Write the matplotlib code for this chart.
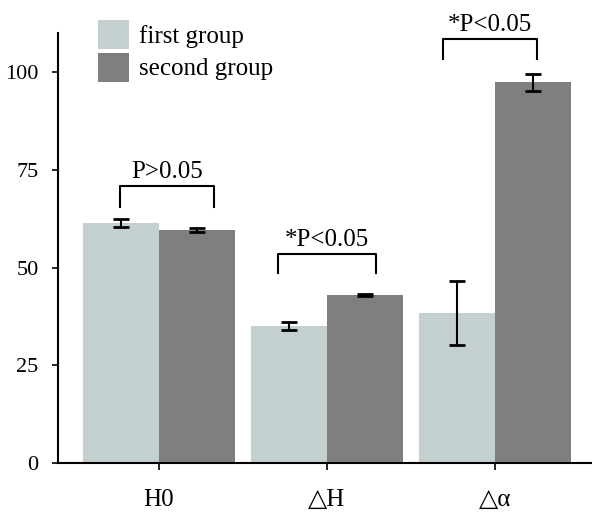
import numpy as np
import matplotlib
matplotlib.use("Agg")
import matplotlib.pyplot as plt
from matplotlib.patches import Patch

plt.rcParams['font.family'] = ['Liberation Serif', 'DejaVu Serif']

categories = ['H0', '△H', '△α']
first_group = [61.5, 35.0, 38.4]
first_err = [1.0, 1.0, 8.2]
second_group = [59.7, 43.0, 97.4]
second_err = [0.5, 0.3, 2.2]
labels = ['first group', 'second group']
yticks = [0, 25, 50, 75, 100]
# bracket: (left x, right x, top y, leg bottom y, text)
brackets = [(-0.23, 0.33, 70.9, 65.6, 'P>0.05'),
            (0.71, 1.29, 53.5, 48.7, '*P<0.05'),
            (1.69, 2.25, 108.4, 103.3, '*P<0.05')]

light = '#c3d0cf'
dark = '#7f7f7f'

fig = plt.figure(figsize=(5.92, 5.13), dpi=100)
ax = fig.add_axes([0.098, 0.0975, 0.902, 0.838])

x = np.arange(len(categories))
w = 0.452
ekw = dict(ecolor='black', elinewidth=1.5, capsize=5.8, capthick=2)
ax.bar(x - w / 2, first_group, w, color=light, yerr=first_err, error_kw=ekw)
ax.bar(x + w / 2, second_group, w, color=dark, yerr=second_err, error_kw=ekw)

for x0, x1, top, bot, txt in brackets:
    ax.plot([x0, x0, x1, x1], [bot, top, top, bot], color='black', lw=1.5,
            clip_on=False)
    ax.text((x0 + x1) / 2, top + 0.8, txt, ha='center', va='bottom', fontsize=18)

ax.set_xlim(-0.601, 2.577)
ax.set_ylim(0, 110)
ax.set_yticks(yticks)
ax.set_xticks(x)
ax.set_xticklabels(categories)
ax.tick_params(axis='y', length=4, width=1.2, labelsize=16, pad=10)
ax.tick_params(axis='x', length=5, width=1.2, labelsize=18, pad=14)
for s in ['top', 'right']:
    ax.spines[s].set_visible(False)
for s in ['left', 'bottom']:
    ax.spines[s].set_linewidth(1.5)

handles = [Patch(facecolor=light), Patch(facecolor=dark)]
fig.legend(handles, labels, loc='upper left', bbox_to_anchor=(98 / 592, 1 - 20 / 513),
           frameon=False, fontsize=18, handlelength=1.24, handleheight=1.4,
           handletextpad=0.4, labelspacing=0.15, borderpad=0, borderaxespad=0)

fig.savefig('out.png', dpi=100)
